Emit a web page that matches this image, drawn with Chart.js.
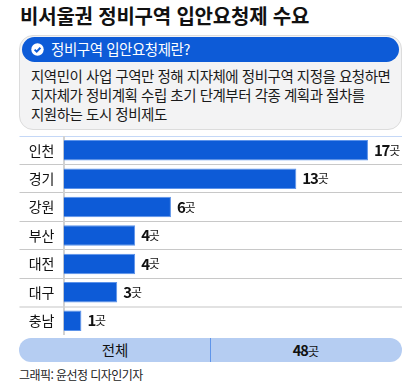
<!DOCTYPE html>
<html lang="ko">
<head>
<meta charset="utf-8">
<title>비서울권 정비구역 입안요청제 수요</title>
<script src="https://cdn.jsdelivr.net/npm/chart.js@4"></script>
<style>
  * { box-sizing: border-box; }
  html, body { margin: 0; padding: 0; background: #fff; }
  body { width: 420px; height: 388px; position: relative; overflow: hidden; font-family: "Noto Sans CJK KR", sans-serif; color: #111; }
  .abs { position: absolute; white-space: nowrap; line-height: 1; }
  #title { left: 20px; top: 5px; font-size: 20px; font-weight: 700; letter-spacing: -0.2px; line-height: 22px; }
  #box { position: absolute; left: 19px; top: 35px; width: 383px; height: 95px; background: #f3f3f4; border: 1px solid #dcdcdc; border-radius: 14px; }
  #pill { position: absolute; left: 22px; top: 37px; width: 377px; height: 25px; background: #0d5bd7; border-radius: 13px; }
  #pill svg { position: absolute; left: 9px; top: 6px; }
  #pill span { position: absolute; left: 29px; top: 0; line-height: 24px; font-size: 14.5px; color: #fff; letter-spacing: -0.45px; white-space: nowrap; }
  .desc { left: 31px; font-size: 14.5px; letter-spacing: -0.48px; line-height: 20px; color: #1a1a1a; }
  #chartWrap { position: absolute; left: 19px; top: 136px; width: 383px; height: 199px; }
  #total { position: absolute; left: 19px; top: 338px; width: 383px; height: 24px; background: #b5cdf2; border-radius: 12px; font-size: 14.5px; line-height: 24px; }
  #total i { position: absolute; left: 191px; top: 0; width: 1px; height: 24px; background: #5f95ea; }
  #total span { position: absolute; top: 0; transform: translateX(-50%); white-space: nowrap; }
  #total b { letter-spacing: -1px; }
  #total small { font-size: 12.5px; }
  #credit { left: 19px; top: 369px; font-size: 12px; letter-spacing: -0.55px; color: #222; }
</style>
</head>
<body>
<div class="abs" id="title">비서울권 정비구역 입안요청제 수요</div>
<div id="box"></div>
<div id="pill">
  <svg width="13" height="13" viewBox="0 0 13 13"><circle cx="6.5" cy="6.5" r="6.2" fill="#fff"/><path d="M3.6 6.6 L5.7 8.6 L9.4 4.7" fill="none" stroke="#0d5bd7" stroke-width="2"/></svg>
  <span>정비구역 입안요청제란?</span>
</div>
<div class="abs desc" style="top:66px">지역민이 사업 구역만 정해 지자체에 정비구역 지정을 요청하면</div>
<div class="abs desc" style="top:85px">지자체가 정비계획 수립 초기 단계부터 각종 계획과 절차를</div>
<div class="abs desc" style="top:104px">지원하는 도시 정비제도</div>

<div id="chartWrap"><canvas id="chart"></canvas></div>

<div id="total">
  <span style="left:96px">전체</span>
  <i></i>
  <span style="left:287px"><b id="totalValue"></b><small>곳</small></span>
</div>
<div class="abs" id="credit">그래픽: 윤선정 디자인기자</div>

<script>
// 데이터
const regions = ["인천", "경기", "강원", "부산", "대전", "대구", "충남"];
const counts = [17, 13, 6, 4, 4, 3, 1];
const totalLabel = 48;
const unit = "곳";

document.getElementById("totalValue").textContent = totalLabel;

const FONT = '"Noto Sans CJK KR", sans-serif';

// 막대 끝 값 라벨
const valueLabels = {
  id: "valueLabels",
  afterDatasetsDraw(chart) {
    const { ctx } = chart;
    chart.getDatasetMeta(0).data.forEach((bar, i) => {
      ctx.save();
      ctx.textBaseline = "middle";
      ctx.fillStyle = "#111";
      ctx.font = "700 15px " + FONT;
      ctx.letterSpacing = "-1.2px";
      const num = String(counts[i]);
      const x = bar.x + 6;
      ctx.fillText(num, x, bar.y);
      const w = ctx.measureText(num).width;
      ctx.font = "400 12px " + FONT;
      ctx.letterSpacing = "0px";
      ctx.fillText(unit, x + w, bar.y);
      ctx.restore();
    });
  },
};

new Chart(document.getElementById("chart"), {
  type: "bar",
  data: {
    labels: regions,
    datasets: [{
      data: counts,
      backgroundColor: "#0d5bd7",
      borderColor: "#5c93ea",
      borderWidth: 1,
      categoryPercentage: 1,
      barPercentage: 0.72,
    }],
  },
  options: {
    indexAxis: "y",
    responsive: true,
    maintainAspectRatio: false,
    animation: false,
    layout: { padding: { top: 0, right: 0, bottom: 0, left: 0 } },
    plugins: { legend: { display: false }, tooltip: { enabled: false } },
    scales: {
      x: {
        display: false,
        min: 0,
        max: 18.9,
      },
      y: {
        afterFit(scale) { scale.width = 44.5; },
        border: { display: true, color: "#d2d2d2", width: 2 },
        grid: {
          offset: true,
          tickLength: 44,
          lineWidth: (c) => (c.index === 0 || c.index === 6 ? 2 : 1),
          color: (c) => {
            if (c.index === 0) return "#c5d8f7";
            if (c.index === 6) return "#e2e2e2";
            if (c.index === 7) return "#7fa9ee";
            return "#c8c8c8";
          },
        },
        ticks: {
          padding: -35,
          color: "#111",
          font: { size: 14, family: FONT },
        },
      },
    },
  },
  plugins: [valueLabels],
});
</script>
</body>
</html>
